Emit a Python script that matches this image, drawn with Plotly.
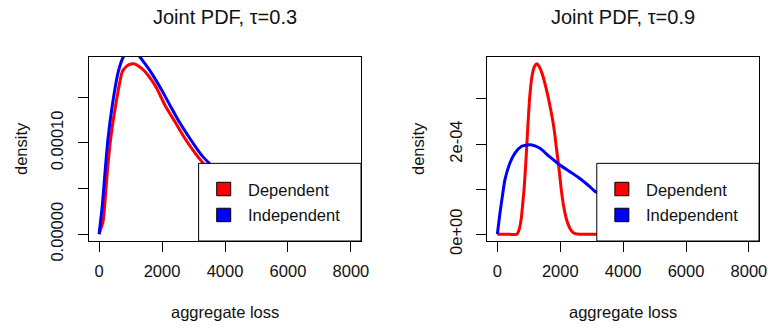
import plotly.graph_objects as go

# ---------------- data ----------------
# Left panel: tau = 0.3   (density values in units of 1e-4)
left_dep_x = [0, 127, 180, 263, 370, 528, 738, 850, 950, 1108, 1250, 1456, 1640, 1826, 2089,
              2405, 2722, 3092, 3250, 3600, 4000, 4500, 5000, 6000, 7000, 8000]
left_dep_y = [0, 0.14, 0.32, 0.685, 1.05, 1.415, 1.78, 1.83, 1.855, 1.865, 1.84, 1.78, 1.70, 1.60, 1.415,
              1.233, 1.05, 0.868, 0.80, 0.66, 0.53, 0.40, 0.30, 0.16, 0.08, 0.04]
left_ind_x = [0, 105, 190, 285, 422, 611, 769, 900, 1050, 1200, 1297, 1450, 1636, 1952, 2247,
              2541, 2880, 3250, 3459, 4000, 4500, 5000, 6000, 7000, 8000]
left_ind_y = [0, 0.32, 0.685, 1.05, 1.415, 1.78, 1.94, 2.00, 2.02, 1.99, 1.94, 1.87, 1.78, 1.60, 1.415,
              1.233, 1.05, 0.868, 0.79, 0.60, 0.46, 0.35, 0.19, 0.10, 0.05]

# Right panel: tau = 0.9
right_dep_x = [0, 300, 620, 700, 760, 810, 850, 910, 970, 1030, 1100, 1180, 1260, 1330, 1430, 1550,
               1700, 1800, 1880, 1960, 2030, 2100, 2180, 2260, 2350, 2450, 2600, 3000, 4000, 5000,
               6000, 7000, 8000]
right_dep_y = [0, 0, 0, 0.12, 0.35, 0.70, 1.00, 1.65, 2.40, 3.05, 3.50, 3.72, 3.78, 3.72, 3.55, 3.24,
               2.75, 2.35, 1.90, 1.45, 1.00, 0.65, 0.38, 0.20, 0.08, 0.02, 0, 0, 0, 0,
               0, 0, 0]
right_ind_x = [0, 83, 159, 241, 400, 559, 771, 950, 1100, 1343, 1660, 1978, 2295, 2613, 2930, 3089,
               3500, 4000, 5000, 6000, 7000, 8000]
right_ind_y = [0, 0.47, 0.84, 1.21, 1.58, 1.80, 1.95, 1.98, 1.98, 1.91, 1.72, 1.54, 1.39, 1.24, 1.06, 0.96,
               0.80, 0.62, 0.36, 0.20, 0.11, 0.06]

scale = 1e-4
titles = ["Joint PDF, \u03c4=0.3", "Joint PDF, \u03c4=0.9"]
legend_labels = ["Dependent", "Independent"]
x_ticks = [0, 2000, 4000, 6000, 8000]
left_y_ticks = [0, 5e-5, 1e-4, 1.5e-4]
left_y_text = ["0.00000", "", "0.00010", ""]
right_y_ticks = [0, 1e-4, 2e-4, 3e-4]
right_y_text = ["0e+00", "", "2e-04", ""]

FONT = "Liberation Sans, Arial, sans-serif"
W, H = 768, 326

fig = go.Figure()

def add_line(x, y, color, xa, ya):
    fig.add_trace(go.Scatter(x=x, y=[v * scale for v in y], mode="lines",
                             line=dict(color=color, width=3, shape="spline", smoothing=0.6),
                             xaxis=xa, yaxis=ya, showlegend=False, hoverinfo="skip"))

add_line(left_dep_x, left_dep_y, "#FF0000", "x", "y")
add_line(left_ind_x, left_ind_y, "#0000FF", "x", "y")
add_line(right_dep_x, right_dep_y, "#FF0000", "x2", "y2")
add_line(right_ind_x, right_ind_y, "#0000FF", "x2", "y2")

# panel geometry (pixels)
L_x0, L_x1 = 89, 361
R_x0, R_x1 = 487.3, 759
Y_top, Y_bot = 57, 241

axis_common = dict(showgrid=False, zeroline=False, showline=True, mirror=True,
                   linecolor="black", linewidth=1, ticks="outside", ticklen=10,
                   tickcolor="black", tickwidth=1, automargin=False,
                   tickfont=dict(family=FONT, size=16.5, color="#111"))

xr = [-320, 8320]
fig.update_layout(
    template="none",
    width=W, height=H, margin=dict(l=0, r=0, t=0, b=0, pad=0, autoexpand=False),
    paper_bgcolor="white", plot_bgcolor="white",
    xaxis=dict(domain=[L_x0 / W, L_x1 / W], range=xr, anchor="y",
               tickvals=x_ticks, ticklabelstandoff=5, **axis_common),
    yaxis=dict(domain=[1 - Y_bot / H, 1 - Y_top / H], range=[-0.0746e-4, 1.9396e-4], anchor="x",
               tickvals=left_y_ticks, ticktext=left_y_text, tickangle=-90,
               ticklabelstandoff=8, **axis_common),
    xaxis2=dict(domain=[R_x0 / W, R_x1 / W], range=xr, anchor="y2",
                tickvals=x_ticks, ticklabelstandoff=5, **axis_common),
    yaxis2=dict(domain=[1 - Y_bot / H, 1 - Y_top / H], range=[-0.1512e-4, 3.931e-4], anchor="x2",
                tickvals=right_y_ticks, ticktext=right_y_text, tickangle=-90,
                ticklabelstandoff=8, **axis_common),
    showlegend=False,
)

shapes = []
annotations = []
colors = ["#FF0000", "#0000FF"]
for xref, yref, px0, px1 in [("x domain", "y domain", L_x0, L_x1), ("x2 domain", "y2 domain", R_x0, R_x1)]:
    # legend box
    shapes.append(dict(type="rect", xref=xref, yref=yref, x0=0.403, x1=1, y0=0, y1=0.422,
                       fillcolor="white", line=dict(color="black", width=1), layer="above"))
    # legend keys
    for i, (yy0, yy1) in enumerate([(0.246, 0.319), (0.105, 0.178)]):
        shapes.append(dict(type="rect", xref=xref, yref=yref, x0=0.4695, x1=0.521, y0=yy0, y1=yy1,
                           fillcolor=colors[i], line=dict(color="black", width=1), layer="above"))
    for lab, yc in zip(legend_labels, [0.277, 0.141]):
        annotations.append(dict(text=lab, xref=xref, yref=yref, x=0.578, y=yc, xanchor="left",
                                yanchor="middle", showarrow=False,
                                font=dict(family=FONT, size=16.5, color="#111")))
    cx = (px0 + px1) / 2 / W
    # x axis title
    annotations.append(dict(text="aggregate loss", xref="paper", yref="paper", x=cx, y=1 - 312 / H,
                            xanchor="center", yanchor="middle", showarrow=False,
                            font=dict(family=FONT, size=16.5, color="#111")))

# y axis titles
for xc in [21, 418]:
    annotations.append(dict(text="density", xref="paper", yref="paper", x=xc / W, y=1 - 149 / H,
                            xanchor="center", yanchor="middle", textangle=-90, showarrow=False,
                            font=dict(family=FONT, size=16.5, color="#111")))
# panel titles
for t, (px0, px1) in zip(titles, [(L_x0, L_x1), (R_x0, R_x1)]):
    annotations.append(dict(text=t, xref="paper", yref="paper", x=(px0 + px1) / 2 / W, y=1 - 17 / H,
                            xanchor="center", yanchor="middle", showarrow=False,
                            font=dict(family=FONT, size=20, color="#111")))

fig.update_layout(shapes=shapes, annotations=annotations)
fig.write_html("out.html", config={"displayModeBar": False, "staticPlot": True},
               post_script="document.body.style.margin='0px';document.body.style.overflow='hidden';")
